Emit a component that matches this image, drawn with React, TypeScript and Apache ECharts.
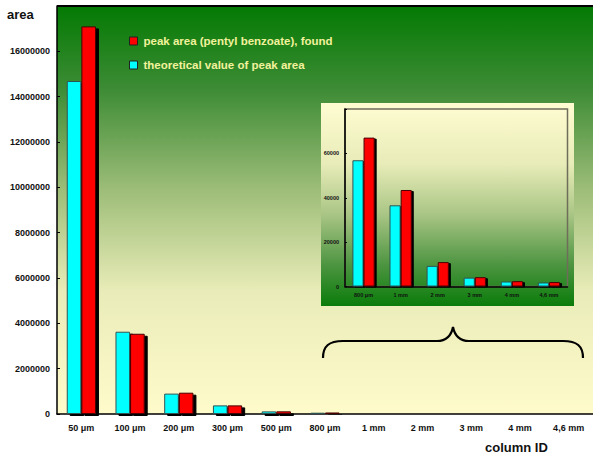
import React, { useEffect, useRef } from "react";
import * as echarts from "echarts";

// Column IDs of the main plot; the inset repeats the last six
const mainCategories = ["50 μm", "100 μm", "200 μm", "300 μm", "500 μm"];
const insetCategories = ["800 μm", "1 mm", "2 mm", "3 mm", "4 mm", "4,6 mm"];

// Peak areas for the wide columns (main plot only)
const theoreticalWide = [14690000, 3630000, 900000, 380000, 115000];
const foundWide = [17100000, 3540000, 940000, 380000, 118000];

// Peak areas for the narrow columns (shown in the inset, and tiny in the main plot)
const theoreticalNarrow = [56900, 36600, 9300, 4000, 2250, 1800];
const foundNarrow = [67100, 43500, 11000, 4200, 2400, 2000];

const mainTicks = { max: 18000000, interval: 2000000 };
const insetTicks = { max: 80000, interval: 20000 };

const FOUND = "peak area (pentyl benzoate), found";
const THEORETICAL = "theoretical value of peak area";

const FONT = "'Liberation Sans', Arial, Helvetica, sans-serif";

echarts.graphic.registerShape(
  "brace",
  echarts.graphic.extendPath(
    "M323,358 C323,346 329,341 343,341 L437,341 C446,341 451,337 453,327 C455,337 460,341 469,341 L563,341 C577,341 583,346 583,358",
    {}
  )
);

export default function App() {
  const ref = useRef<HTMLDivElement>(null);

  useEffect(() => {
    if (!ref.current) return;
    const chart = echarts.init(ref.current, null, { renderer: "svg" });

    const mainGradient = new echarts.graphic.LinearGradient(0, 0, 0, 1, [
      { offset: 0, color: "#037a03" },
      { offset: 0.2, color: "#3c8b34" },
      { offset: 0.45, color: "#9dbd78" },
      { offset: 0.7, color: "#e9ecb8" },
      { offset: 1, color: "#fffbcb" },
    ]);
    const insetGradient = new echarts.graphic.LinearGradient(0, 0, 0, 1, [
      { offset: 0, color: "#fffcd2" },
      { offset: 0.3, color: "#e8ecb8" },
      { offset: 0.55, color: "#a9c585" },
      { offset: 0.8, color: "#4c9440" },
      { offset: 1, color: "#0a7c0a" },
    ]);

    const cyanStyle = (sh: number) => ({
      color: "#00ffff",
      borderColor: "#2f5454",
      borderWidth: 1,
      shadowColor: "#000",
      shadowBlur: 0,
      shadowOffsetX: sh,
      shadowOffsetY: sh - 1,
    });
    const redStyle = (sh: number) => ({
      color: "#ff0000",
      borderColor: "#4a0000",
      borderWidth: 1,
      shadowColor: "#000",
      shadowBlur: 0,
      shadowOffsetX: sh,
      shadowOffsetY: sh - 1,
    });

    const axisLabelMain = {
      color: "#111",
      fontFamily: FONT,
      fontWeight: "bold" as const,
      fontSize: 9,
    };
    const axisLabelInset = {
      color: "#111",
      fontFamily: FONT,
      fontWeight: "bold" as const,
      fontSize: 5.5,
    };

    chart.setOption({
      animation: false,
      textStyle: { fontFamily: FONT },
      legend: {
        data: [FOUND, THEORETICAL],
        orient: "vertical",
        left: 124,
        top: 29,
        itemWidth: 8,
        itemHeight: 8,
        itemGap: 10,
        icon: "rect",
        selectedMode: false,
        itemStyle: {
          borderColor: "#222",
          borderWidth: 1,
          shadowBlur: 0,
          shadowOffsetX: 0,
          shadowOffsetY: 0,
          shadowColor: "transparent",
        },
        textStyle: {
          color: "#f2f29c",
          fontFamily: FONT,
          fontWeight: "bold",
          fontSize: 11.5,
          lineHeight: 14,
          padding: [0, 0, 0, 1],
        },
      },
      grid: [
        {
          left: 57,
          top: 6,
          right: -3,
          bottom: 43,
          show: true,
          backgroundColor: mainGradient,
          borderWidth: 0,
          z: 0,
        },
        {
          left: 345,
          top: 109,
          right: 25.5,
          bottom: 170.5,
          show: true,
          backgroundColor: "transparent",
          borderColor: "#6e6e5a",
          borderWidth: 1.5,
          z: 6,
        },
      ],
      xAxis: [
        {
          type: "category",
          gridIndex: 0,
          data: [...mainCategories, ...insetCategories],
          axisLine: { lineStyle: { color: "#000", width: 1.5 } },
          axisTick: { inside: true, length: 3, lineStyle: { color: "#000" } },
          axisLabel: { ...axisLabelMain, margin: 9, interval: 0 },
        },
        {
          type: "category",
          gridIndex: 1,
          z: 7,
          data: insetCategories,
          axisLine: { lineStyle: { color: "#000", width: 1.5 } },
          axisTick: { inside: true, length: 2, lineStyle: { color: "#000" } },
          axisLabel: { ...axisLabelInset, margin: 5, interval: 0 },
        },
      ],
      yAxis: [
        {
          type: "value",
          gridIndex: 0,
          min: 0,
          max: mainTicks.max,
          interval: mainTicks.interval,
          splitLine: { show: false },
          axisLine: { show: true, lineStyle: { color: "#000", width: 1.5 } },
          axisTick: { show: true, inside: true, length: 3, lineStyle: { color: "#000" } },
          axisLabel: {
            ...axisLabelMain,
            margin: 7,
            formatter: (v: number) => (v >= mainTicks.max ? "" : String(v)),
          },
        },
        {
          type: "value",
          gridIndex: 1,
          z: 7,
          min: 0,
          max: insetTicks.max,
          interval: insetTicks.interval,
          splitLine: { show: false },
          axisLine: { show: true, lineStyle: { color: "#000", width: 1.5 } },
          axisTick: { show: true, inside: true, length: 2, lineStyle: { color: "#000" } },
          axisLabel: {
            ...axisLabelInset,
            margin: 6,
            formatter: (v: number) => (v >= insetTicks.max ? "" : String(v)),
          },
        },
      ],
      series: [
        {
          name: THEORETICAL,
          type: "bar",
          xAxisIndex: 0,
          yAxisIndex: 0,
          barWidth: "30%",
          barGap: "0%",
          data: [...theoreticalWide, ...theoreticalNarrow],
          itemStyle: cyanStyle(3),
        },
        {
          name: FOUND,
          type: "bar",
          xAxisIndex: 0,
          yAxisIndex: 0,
          barWidth: "30%",
          barGap: "0%",
          data: [...foundWide, ...foundNarrow],
          itemStyle: redStyle(3),
        },
        {
          name: THEORETICAL,
          type: "bar",
          xAxisIndex: 1,
          yAxisIndex: 1,
          z: 8,
          barWidth: "30%",
          barGap: "0%",
          data: theoreticalNarrow,
          itemStyle: cyanStyle(2),
        },
        {
          name: FOUND,
          type: "bar",
          xAxisIndex: 1,
          yAxisIndex: 1,
          z: 8,
          barWidth: "30%",
          barGap: "0%",
          data: foundNarrow,
          itemStyle: redStyle(2),
        },
      ],
      graphic: [
        {
          type: "rect",
          z: 5,
          shape: { x: 321, y: 103, width: 253, height: 203 },
          style: { fill: insetGradient },
        },
        {
          type: "line",
          z: 10,
          shape: { x1: 57, y1: 6, x2: 593, y2: 6 },
          style: { stroke: "#000", lineWidth: 2 },
        },
        {
          type: "brace",
          x: 0,
          y: 0,
          z: 10,
          style: { stroke: "#000", lineWidth: 2.2, fill: null },
        },
        {
          type: "text",
          x: 7,
          y: 8,
          style: {
            text: "area",
            fill: "#111",
            font: `bold 13px ${FONT}`,
          },
        },
        {
          type: "text",
          x: 485,
          y: 441,
          style: {
            text: "column ID",
            fill: "#111",
            font: `bold 13px ${FONT}`,
          },
        },
      ],
    });

    return () => chart.dispose();
  }, []);

  return (
    <div
      ref={ref}
      style={{ position: "absolute", left: 0, top: 0, width: 593, height: 457, background: "#fff" }}
    />
  );
}
